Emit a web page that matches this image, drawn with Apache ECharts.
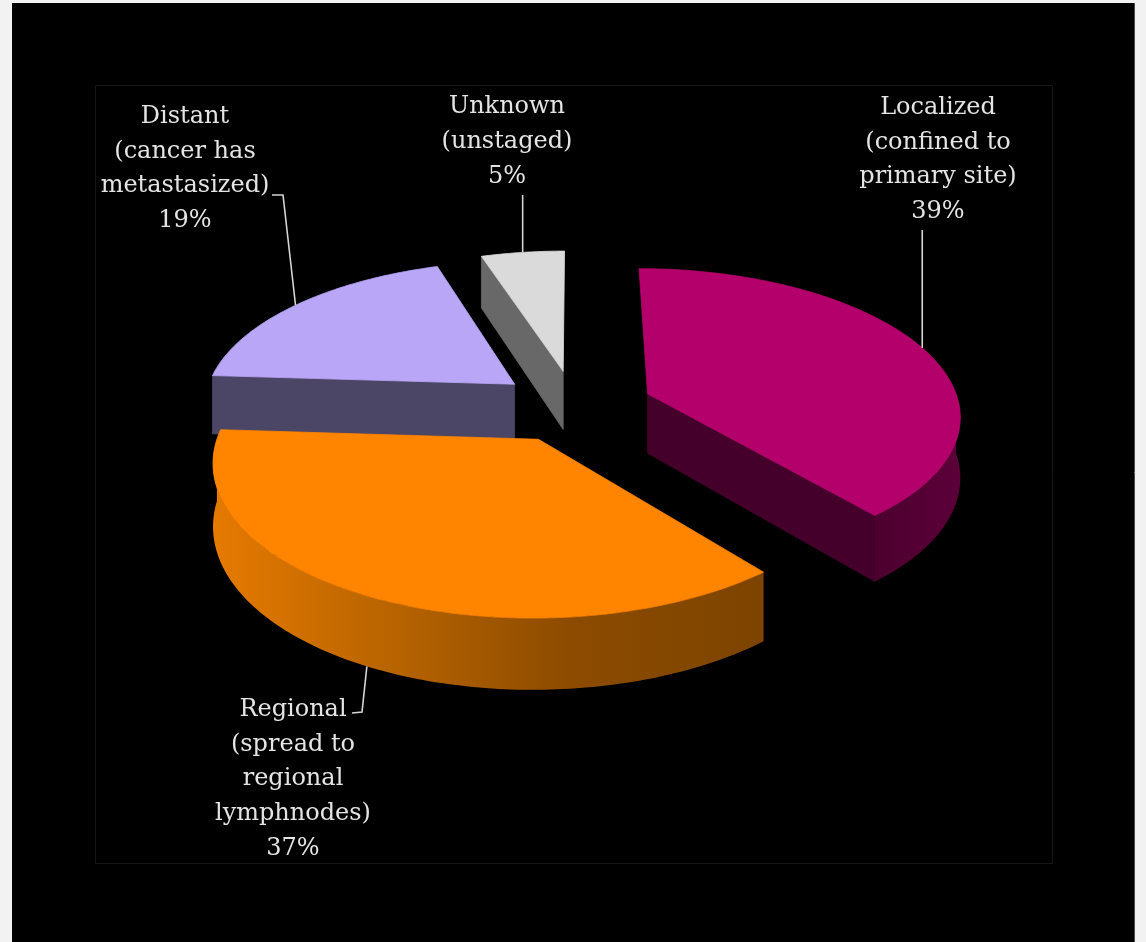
<!DOCTYPE html>
<html>
<head>
<meta charset="utf-8">
<script src="https://cdn.jsdelivr.net/npm/echarts@6/dist/echarts.min.js"></script>
<style>
html,body{margin:0;padding:0;background:#f2f2f2;}
#chart{width:1146px;height:942px;}
</style>
</head>
<body>
<div id="chart"></div>
<script>
// ---------- data ----------
const categories = ['Localized', 'Regional', 'Distant', 'Unknown'];
const labelTexts = [
  ['Localized', '(confined to', 'primary site)'],
  ['Regional', '(spread to', 'regional', 'lymphnodes)'],
  ['Distant', '(cancer has', 'metastasized)'],
  ['Unknown', '(unstaged)']
];
const values = [39, 37, 19, 5];

// ---------- styles / layout ----------
const topColors = ['#b4006b', '#ff8500', '#b9a6f6', '#dadada'];
const radialWallColors = ['#44002a', '#8a4a00', '#4b4566', '#686868'];
const outerWallStops = [
  [[0, '#4c002f'], [1, '#5c0039']],
  [[0, '#e67a00'], [0.35, '#b46200'], [0.65, '#8c4b00'], [1, '#7d4400']],
  [[0, '#4b4566'], [1, '#4b4566']],
  [[0, '#686868'], [1, '#686868']]
];
const G = { cx: 575, cy: 406, AR: 312, BR: 145, p: 0.134, T: 60, explode: 0.25 };
const labelLayout = [
  { x: 938, firstCenter: 108, lh: 34.5, leader: { from: 'vertical', y: 230 } },
  { x: 293, firstCenter: 710, lh: 34.6, leader: { points: [[352, 713], [362, 712]] } },
  { x: 185, firstCenter: 117, lh: 34.5, leader: { points: [[272, 195], [283, 195]] } },
  { x: 507, firstCenter: 107, lh: 35, leader: { from: 'vertical', y: 195 } }
];
const FONT = '24px "DejaVu Serif", serif';
const TEXT_COLOR = '#e4e4e4';
const LINE_COLOR = '#d4d4d4';

function proj(X, Z, h) {
  const s = 1 / (1 + G.p * Z);
  return [G.cx + G.AR * X * s, G.cy - G.BR * Z * s + h * s];
}
const rad = d => d * Math.PI / 180;
const total = values.reduce((a, b) => a + b, 0);

// depth rank (back slices drawn first)
const mids = values.map((v, i) => {
  let s = 0; for (let k = 0; k < i; k++) s += values[k];
  return (s + v / 2) / total * 360;
});
const order = mids.map((m, i) => [Math.cos(rad(m)), i]).sort((a, b) => b[0] - a[0]).map(d => d[1]);
const rank = []; order.forEach((idx, r) => { rank[idx] = r; });

function renderItem(params, api) {
  const i = params.dataIndex;
  const v = api.value(1);
  let start = 0; for (let k = 0; k < i; k++) start += values[k];
  const a1 = start / total * 360, a2 = (start + v) / total * 360;
  const mid = (a1 + a2) / 2;
  const ox = G.explode * Math.sin(rad(mid)), oz = G.explode * Math.cos(rad(mid));
  const P = (ang, r, h) => proj(ox + r * Math.sin(rad(ang)), oz + r * Math.cos(rad(ang)), h);
  const arc = (from, to, h) => {
    const pts = []; const n = Math.max(2, Math.ceil(Math.abs(to - from)));
    for (let j = 0; j <= n; j++) pts.push(P(from + (to - from) * j / n, 1, h));
    return pts;
  };
  const base = rank[i] * 10;
  const children = [];
  // radial walls facing viewer
  [[a1, a1 - 90], [a2, a2 + 90]].forEach(([ang, nrm]) => {
    if (Math.cos(rad(nrm)) < -0.01) {
      children.push({
        type: 'polygon',
        shape: { points: [P(0, 0, 0), P(ang, 1, 0), P(ang, 1, G.T), P(0, 0, G.T)] },
        style: { fill: radialWallColors[i], stroke: radialWallColors[i], lineWidth: 0.8 },
        z2: base + 1
      });
    }
  });
  // outer curved wall (front half)
  const f = Math.max(a1, 90), t = Math.min(a2, 270);
  if (t > f) {
    const pts = arc(f, t, 0).concat(arc(f, t, G.T).reverse());
    const stops = outerWallStops[i].map(s => ({ offset: s[0], color: s[1] }));
    children.push({
      type: 'polygon',
      shape: { points: pts },
      style: { fill: new echarts.graphic.LinearGradient(0, 0, 1, 0, stops), lineWidth: 0 },
      z2: base + 2
    });
  }
  // top face
  children.push({
    type: 'polygon',
    shape: { points: [P(0, 0, 0)].concat(arc(a1, a2, 0)) },
    style: { fill: topColors[i], stroke: topColors[i], lineWidth: 0.8 },
    z2: base + 3
  });
  // label
  const L = labelLayout[i];
  const front = Math.cos(rad(mid)) < 0;
  const anchor = P(mid, 1, front ? G.T : 0);
  let linePts;
  if (L.leader.from === 'vertical') {
    linePts = [[anchor[0], L.leader.y], anchor];
  } else {
    linePts = L.leader.points.concat([anchor]);
  }
  children.push({
    type: 'polyline',
    shape: { points: linePts },
    style: { stroke: LINE_COLOR, lineWidth: 1.6, fill: null },
    z2: 100
  });
  const pct = Math.round(v / total * 100) + '%';
  children.push({
    type: 'text',
    style: {
      text: labelTexts[i].concat([pct]).join('\n'),
      x: L.x, y: L.firstCenter - L.lh / 2,
      align: 'center', verticalAlign: 'top',
      lineHeight: L.lh, font: FONT, fill: TEXT_COLOR
    },
    z2: 101
  });
  return { type: 'group', children: children };
}

const chart = echarts.init(document.getElementById('chart'), null, { renderer: 'canvas' });
chart.setOption({
  backgroundColor: '#f2f2f2',
  animation: false,
  graphic: [
    { type: 'rect', shape: { x: 12, y: 3, width: 1122, height: 945 }, style: { fill: '#000000' }, z: -10, silent: true },
    { type: 'line', shape: { x1: 1134.5, y1: 3, x2: 1134.5, y2: 942 }, style: { stroke: '#4a4a4a', lineWidth: 1 }, z: -9, silent: true },
    { type: 'rect', shape: { x: 95.5, y: 85.5, width: 957, height: 778 }, style: { fill: null, stroke: '#161616', lineWidth: 1 }, z: -9, silent: true }
  ],
  series: [{
    type: 'custom',
    coordinateSystem: 'none',
    renderItem: renderItem,
    data: values.map((v, i) => ({ name: categories[i], value: [i, v] })),
    silent: true
  }]
});
</script>
</body>
</html>
